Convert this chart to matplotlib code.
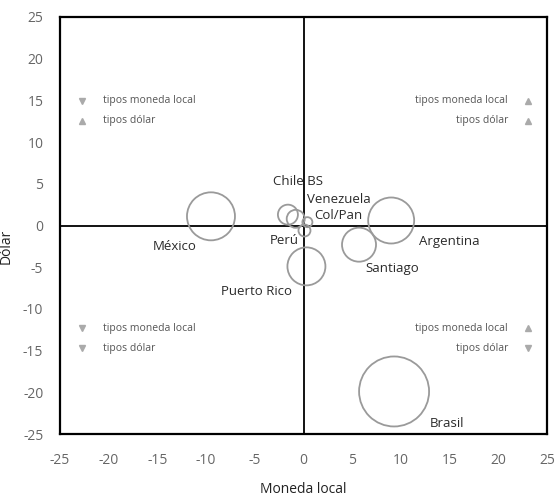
import matplotlib
matplotlib.use("Agg")
import matplotlib.pyplot as plt

plt.rcParams['font.family'] = ['Open Sans', 'DejaVu Sans']
plt.rcParams['axes.unicode_minus'] = False

# Data
countries = ["México", "Chile BS", "Venezuela", "Col/Pan", "Perú",
             "Argentina", "Santiago", "Puerto Rico", "Brasil"]
moneda_local = [-9.5, -1.6, -0.8, 0.4, 0.1, 9.0, 5.7, 0.3, 9.3]
dolar = [1.1, 1.3, 0.8, 0.4, -0.6, 0.6, -2.3, -4.9, -19.9]
bubble_radius = [24, 10, 9, 5, 6, 23, 17, 19, 35]   # bubble size (radius units)

xticks = [-25, -20, -15, -10, -5, 0, 5, 10, 15, 20, 25]
yticks = [25, 20, 15, 10, 5, 0, -5, -10, -15, -20, -25]

legend_local = "tipos moneda local"
legend_dolar = "tipos dólar"

# label offsets in pixels (dx, dy)
label_offsets = [(-36, -30), (10, 33), (43, 19), (31, 7), (-20, -10),
                 (58, -21), (33, -24), (-50, -25), (53, -32)]

W, H = 555, 497
fig = plt.figure(figsize=(W / 100, H / 100), dpi=100)
ax = fig.add_axes([60 / W, (H - 434) / H, 487 / W, 417 / H])

ax.set_xlim(-25, 25)
ax.set_ylim(-25, 25)

sizes = [(1.44 * r) ** 2 for r in bubble_radius]
ax.scatter(moneda_local, dolar, s=sizes, facecolors='none',
           edgecolors='#9a9a9a', linewidths=1.3, zorder=3)

ax.axhline(0, color='black', lw=1.3, zorder=2)
ax.axvline(0, color='black', lw=1.3, zorder=2)

for name, x, y, (dx, dy) in zip(countries, moneda_local, dolar, label_offsets):
    ax.annotate(name, xy=(x, y), xytext=(dx, dy), textcoords='offset pixels',
                ha='center', va='center', fontsize=9.5, color='#2a2a2a', zorder=4)

ax.set_xticks(xticks)
ax.set_yticks(yticks)
ax.tick_params(length=0, labelsize=10, labelcolor='#666666')
ax.tick_params(axis='x', pad=14)
ax.tick_params(axis='y', pad=12)

for sp in ax.spines.values():
    sp.set_linewidth(1.6)
    sp.set_color('black')

ax.set_xlabel("Moneda local", fontsize=10, color='#222222', labelpad=10)
ax.set_ylabel("Dólar", fontsize=10, color='#222222', labelpad=5)
ax.yaxis.set_label_coords(-0.095, 0.45)

mcol = '#aaaaaa'
tcol = '#555555'
fs = 7.5
# quadrant legends: (marker x, text x, ha, y1, y2, marker1, marker2)
quads = [
    (0.045, 0.088, 'left', 0.799, 0.751, 'v', '^'),
    (0.961, 0.920, 'right', 0.799, 0.751, '^', '^'),
    (0.045, 0.088, 'left', 0.254, 0.206, 'v', 'v'),
    (0.961, 0.920, 'right', 0.254, 0.206, '^', 'v'),
]
for mx, tx, ha, y1, y2, m1, m2 in quads:
    ax.plot([mx], [y1], marker=m1, color=mcol, ms=5, transform=ax.transAxes, ls='none')
    ax.plot([mx], [y2], marker=m2, color=mcol, ms=5, transform=ax.transAxes, ls='none')
    ax.text(tx, y1, legend_local, transform=ax.transAxes, ha=ha, va='center',
            fontsize=fs, color=tcol)
    ax.text(tx, y2, legend_dolar, transform=ax.transAxes, ha=ha, va='center',
            fontsize=fs, color=tcol)

fig.savefig("out.png", dpi=100)
